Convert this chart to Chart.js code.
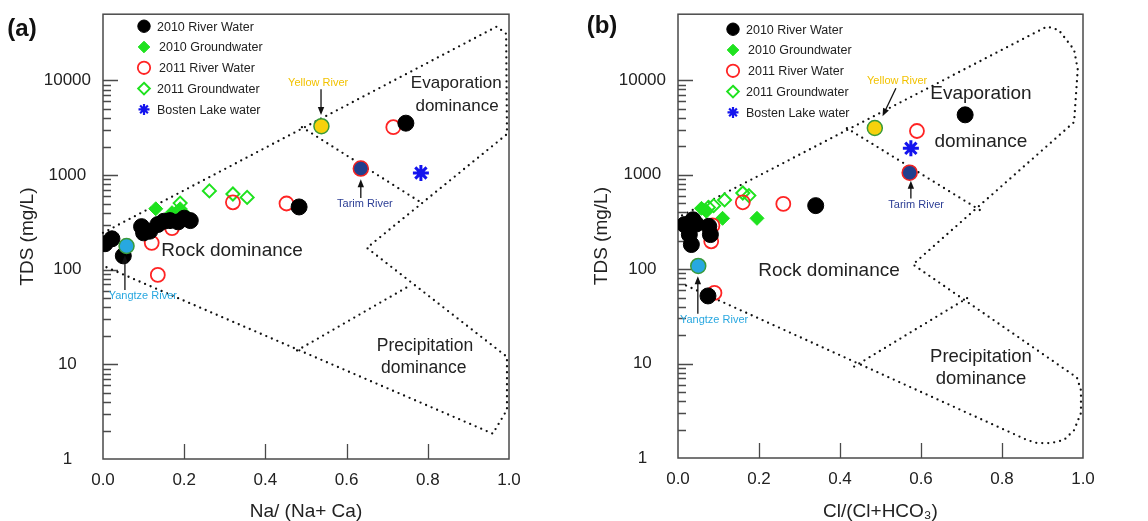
<!DOCTYPE html>
<html>
<head>
<meta charset="utf-8">
<script src="https://cdn.jsdelivr.net/npm/chart.js@4.4.1/dist/chart.umd.min.js"></script>
<style>
body { margin: 0; background: #fff; }
.wrap { display: flex; width: 1148px; height: 521px; }
canvas { display: block; }
</style>
</head>
<body>
<div class="wrap">
    <canvas id="gibbs-a" width="574" height="521"></canvas>
    <canvas id="gibbs-b" width="574" height="521"></canvas>
</div>
<script>
// axis ticks
const xTicks = [0, 0.2, 0.4, 0.6, 0.8, 1.0];
const yMajor = [1, 10, 100, 1000, 10000];
const yMinorSteps = [2, 3, 4, 5, 6, 7, 8, 9];

const seriesNames = ['2010 River Water', '2010 Groundwater', '2011 River Water', '2011 Groundwater', 'Bosten Lake water'];

// (a) Na/(Na+Ca) vs TDS (mg/L)
const riverA2010 = [[0.005, 188], [0.022, 212], [0.05, 140], [0.095, 285], [0.10, 245], [0.115, 255], [0.135, 300],
    [0.15, 325], [0.165, 330], [0.185, 320], [0.20, 350], [0.215, 330], [0.483, 460], [0.746, 3530]];
const groundA2010 = [[0.13, 440], [0.17, 400], [0.19, 440], [0.20, 390], [0.21, 350]];
const riverA2011 = [[0.12, 192], [0.135, 88], [0.17, 275], [0.32, 515], [0.452, 500], [0.715, 3200]];
const groundA2011 = [[0.19, 505], [0.262, 680], [0.32, 630], [0.355, 580]];
const bostenA = [[0.783, 1050]];
const yellowA = [[0.538, 3280]];
const yangtzeA = [[0.058, 178]];
const tarimA = [[0.635, 1170]];
// Gibbs boundaries (a)
const outerA = [[0, 245], [0.97, 37000], [0.993, 31000], [0.995, 2700], [0.65, 170], [0.995, 12], [0.995, 3.3], [0.96, 1.85], [0, 110]];
const evapLineA = [[0.49, 3200], [0.785, 507]];
const precLineA = [[0.478, 14], [0.756, 68]];

// (b) Cl/(Cl+HCO3) vs TDS (mg/L)
const riverB2010 = [[0.016, 296], [0.037, 333], [0.028, 232], [0.033, 182], [0.045, 300], [0.076, 284], [0.08, 232],
    [0.074, 52], [0.34, 470], [0.709, 4300]];
const groundB2010 = [[0.058, 440], [0.07, 410], [0.11, 345], [0.195, 345]];
const riverB2011 = [[0.082, 197], [0.085, 290], [0.09, 56], [0.16, 510], [0.26, 490], [0.59, 2900]];
const groundB2011 = [[0.075, 450], [0.088, 470], [0.115, 540], [0.16, 640], [0.175, 600]];
const bostenB = [[0.575, 1900]];
const yellowB = [[0.486, 3120]];
const yangtzeB = [[0.05, 108]];
const tarimB = [[0.572, 1050]];
// Gibbs boundaries (b)
const outerB = [[0.01, 370], [0.911, 37000], [0.94, 34000], [0.978, 21000], [0.987, 13000], [0.978, 3600], [0.58, 112],
    [0.985, 7.1], [0.995, 5.2], [0.995, 3.0], [0.978, 1.97], [0.953, 1.55], [0.921, 1.44], [0.886, 1.44], [0.862, 1.55], [0.007, 71]];
const evapLineB = [[0.417, 3100], [0.75, 410]];
const precLineB = [[0.435, 9.3], [0.723, 52]];

const FONT = "'Liberation Sans', Arial, sans-serif";
Chart.defaults.font.family = FONT;
Chart.defaults.color = '#222';

const yTickValues = [];
yMajor.forEach(function(p){
    yTickValues.push(p);
    if (p < 10000) yMinorSteps.forEach(function(m){ yTickValues.push(m * p); });
});

function pts(arr){
    return arr.map(function(p){ return {x: p[0], y: p[1]}; });
}

function series(data){
    return [
        {label: 'Yellow River', data: pts(data.yellow), pointStyle: 'circle', pointRadius: 7.5, backgroundColor: '#f6d10c', borderColor: '#3a9a3a', borderWidth: 1.5},
        {label: 'Yangtze River', data: pts(data.yangtze), pointStyle: 'circle', pointRadius: 7.5, backgroundColor: '#27a8e0', borderColor: '#3a9a3a', borderWidth: 1.5},
        {label: 'Tarim River', data: pts(data.tarim), pointStyle: 'circle', pointRadius: 7.5, backgroundColor: '#213f8e', borderColor: '#f02222', borderWidth: 1.5},
        {label: seriesNames[0], inLegend: true, data: pts(data.r10), pointStyle: 'circle', pointRadius: 8, backgroundColor: '#000', borderColor: '#000', borderWidth: 1},
        {label: seriesNames[4], inLegend: true, data: pts(data.bosten), pointStyle: 'star', pointRadius: 8, backgroundColor: '#1414ee', borderColor: '#1414ee', borderWidth: 3},
        {label: seriesNames[2], inLegend: true, data: pts(data.r11), pointStyle: 'circle', pointRadius: 7, backgroundColor: 'rgba(0,0,0,0)', borderColor: '#ff2424', borderWidth: 1.8},
        {label: seriesNames[1], inLegend: true, data: pts(data.g10), pointStyle: 'rectRot', pointRadius: 7, backgroundColor: '#1ee21e', borderColor: '#1ee21e', borderWidth: 1},
        {label: seriesNames[3], inLegend: true, data: pts(data.g11), pointStyle: 'rectRot', pointRadius: 6.5, backgroundColor: 'rgba(0,0,0,0)', borderColor: '#1ee21e', borderWidth: 2},
        boundary(data.outer), boundary(data.evap), boundary(data.prec)
    ];
}

function boundary(arr){
    return {data: pts(arr), showLine: true, pointRadius: 0, borderColor: '#111', borderWidth: 2.3,
        borderDash: [0, 6], borderCapStyle: 'round', fill: false, clip: false};
}

// marker for the in-plot legend
function marker(ctx, ds, x, y, r){
    ctx.save();
    ctx.fillStyle = ds.backgroundColor;
    ctx.strokeStyle = ds.borderColor;
    ctx.lineWidth = ds.borderWidth;
    ctx.beginPath();
    if (ds.pointStyle === 'circle') {
        ctx.arc(x, y, r, 0, Math.PI * 2);
        ctx.fill(); ctx.stroke();
    } else if (ds.pointStyle === 'rectRot') {
        ctx.moveTo(x, y - r); ctx.lineTo(x + r, y); ctx.lineTo(x, y + r); ctx.lineTo(x - r, y); ctx.closePath();
        ctx.fill(); ctx.stroke();
    } else {
        for (let i = 0; i < 4; i++) {
            const a = i * Math.PI / 4;
            ctx.moveTo(x - Math.cos(a) * r, y - Math.sin(a) * r);
            ctx.lineTo(x + Math.cos(a) * r, y + Math.sin(a) * r);
        }
        ctx.lineWidth = 2.2;
        ctx.stroke();
    }
    ctx.restore();
}

const gibbsPlugin = {
    id: 'gibbs',
    beforeDatasetsDraw(chart){
        const {ctx, chartArea: a, scales: {x, y}} = chart;
        ctx.save();
        ctx.strokeStyle = '#4a4a4a';
        ctx.lineWidth = 1.5;
        ctx.strokeRect(a.left, a.top, a.right - a.left, a.bottom - a.top);
        ctx.lineWidth = 1.3;
        ctx.beginPath();
        x.ticks.forEach(function(t){
            if (t.value <= 0 || t.value >= 1) return;
            const px = Math.round(x.getPixelForValue(t.value)) + 0.5;
            ctx.moveTo(px, a.bottom); ctx.lineTo(px, a.bottom - 15);
        });
        y.ticks.forEach(function(t){
            if (t.value <= 1) return;
            const py = Math.round(y.getPixelForValue(t.value)) + 0.5;
            const len = yMajor.includes(t.value) ? 15 : 8;
            ctx.moveTo(a.left, py); ctx.lineTo(a.left + len, py);
        });
        ctx.stroke();
        ctx.restore();
    },
    afterDatasetsDraw(chart){
        const opts = chart.options.plugins.gibbs;
        const {ctx, chartArea: a, scales: {x, y}} = chart;
        ctx.save();
        // panel letter
        ctx.fillStyle = '#111';
        ctx.font = 'bold 24px ' + FONT;
        ctx.textAlign = 'center';
        ctx.textBaseline = 'middle';
        ctx.fillText(opts.panel.text, opts.panel.x, opts.panel.y);

        // legend
        const lg = opts.legend;
        ctx.font = '12.5px ' + FONT;
        ctx.textAlign = 'left';
        let row = 0;
        chart.data.datasets.filter(function(d){ return d.inLegend; })
            .sort(function(p, q){ return seriesNames.indexOf(p.label) - seriesNames.indexOf(q.label); })
            .forEach(function(ds){
                const ly = a.top + lg.top + row * 20.8;
                const r = ds.pointStyle === 'circle' ? 6.2 : (ds.pointStyle === 'star' ? 5.5 : 5.8);
                marker(ctx, ds, a.left + lg.left, ly, r);
                ctx.fillStyle = '#222';
                ctx.fillText(ds.label, a.left + lg.left + 13 + (row === 1 || row === 2 ? 2 : 0), ly + 1);
                row++;
            });

        // arrows
        ctx.strokeStyle = '#111';
        ctx.fillStyle = '#111';
        ctx.lineWidth = 1.3;
        opts.arrows.forEach(function(ar){
            const x1 = x.getPixelForValue(ar[0]), y1 = y.getPixelForValue(ar[1]);
            const x2 = x.getPixelForValue(ar[2]), y2 = y.getPixelForValue(ar[3]);
            const ang = Math.atan2(y2 - y1, x2 - x1);
            ctx.beginPath();
            ctx.moveTo(x1, y1); ctx.lineTo(x2 - Math.cos(ang) * 5, y2 - Math.sin(ang) * 5);
            ctx.stroke();
            ctx.beginPath();
            ctx.moveTo(x2, y2);
            ctx.lineTo(x2 - Math.cos(ang) * 8 + Math.sin(ang) * 3.2, y2 - Math.sin(ang) * 8 - Math.cos(ang) * 3.2);
            ctx.lineTo(x2 - Math.cos(ang) * 8 - Math.sin(ang) * 3.2, y2 - Math.sin(ang) * 8 + Math.cos(ang) * 3.2);
            ctx.closePath();
            ctx.fill();
        });

        // region and river labels
        ctx.textAlign = 'center';
        opts.texts.forEach(function(t){
            ctx.font = t.size + 'px ' + FONT;
            ctx.fillStyle = t.color || '#222';
            ctx.fillText(t.text, x.getPixelForValue(t.x), y.getPixelForValue(t.y));
        });
        ctx.restore();
    }
};

function makeChart(id, data, cfg){
    const ctx = document.getElementById(id).getContext('2d');
    return new Chart(ctx, {
        type: 'scatter',
        data: {datasets: series(data)},
        options: {
            responsive: false,
            animation: false,
            events: [],
            layout: {padding: {left: 0, top: cfg.top, right: 65, bottom: 0}},
            scales: {
                x: {
                    type: 'linear', min: 0, max: 1,
                    afterBuildTicks: function(s){ s.ticks = xTicks.map(function(v){ return {value: v}; }); },
                    afterFit: function(s){ s.height = cfg.xHeight; },
                    grid: {display: false},
                    border: {display: false},
                    ticks: {padding: 3, font: {size: 17}, color: '#222', callback: function(v){ return v.toFixed(1); }},
                    title: {display: true, text: cfg.xTitle, font: {size: 19, lineHeight: 1}, color: '#222', padding: {top: 0, bottom: 0}}
                },
                y: {
                    type: 'logarithmic', min: 1, max: 50000,
                    afterBuildTicks: function(s){ s.ticks = yTickValues.map(function(v){ return {value: v}; }); },
                    afterFit: function(s){ s.width = cfg.yWidth; },
                    grid: {display: false},
                    border: {display: false},
                    ticks: {padding: 4, crossAlign: 'center', autoSkip: false, font: {size: 17}, color: '#222',
                        callback: function(v){ return yMajor.includes(v) ? String(v) : ''; }},
                    title: {display: true, text: 'TDS (mg/L)', font: {size: 19}, color: '#222', padding: {top: 16, bottom: 0}}
                }
            },
            plugins: {
                legend: {display: false},
                tooltip: {enabled: false},
                gibbs: cfg.gibbs
            }
        },
        plugins: [gibbsPlugin]
    });
}

makeChart('gibbs-a', {
    r10: riverA2010, g10: groundA2010, r11: riverA2011, g11: groundA2011, bosten: bostenA,
    yellow: yellowA, yangtze: yangtzeA, tarim: tarimA, outer: outerA, evap: evapLineA, prec: precLineA
}, {
    top: 13, xHeight: 62, yWidth: 103, xTitle: 'Na/ (Na+ Ca)',
    gibbs: {
        panel: {text: '(a)', x: 22, y: 29},
        legend: {left: 41, top: 12},
        arrows: [[0.537, 8040, 0.537, 4300], [0.635, 573, 0.635, 900], [0.054, 61, 0.054, 142]],
        texts: [
            {text: 'Yellow River', x: 0.53, y: 9500, size: 11, color: '#f2c200'},
            {text: 'Tarim River', x: 0.645, y: 495, size: 11, color: '#2c3e95'},
            {text: 'Yangtze River', x: 0.098, y: 53, size: 11, color: '#2aa8e0'},
            {text: 'Evaporation', x: 0.87, y: 9300, size: 17},
            {text: 'dominance', x: 0.872, y: 5320, size: 17},
            {text: 'Rock dominance', x: 0.318, y: 158, size: 19},
            {text: 'Precipitation', x: 0.793, y: 15.5, size: 17.5},
            {text: 'dominance', x: 0.79, y: 9.1, size: 17.5}
        ]
    }
});

makeChart('gibbs-b', {
    r10: riverB2010, g10: groundB2010, r11: riverB2011, g11: groundB2011, bosten: bostenB,
    yellow: yellowB, yangtze: yangtzeB, tarim: tarimB, outer: outerB, evap: evapLineB, prec: precLineB
}, {
    top: 11, xHeight: 63, yWidth: 104, xTitle: 'Cl/(Cl+HCO\u2083)',
    gibbs: {
        panel: {text: '(b)', x: 28, y: 26},
        legend: {left: 55, top: 15},
        arrows: [[0.538, 8240, 0.505, 4150], [0.575, 559, 0.575, 860], [0.049, 33.6, 0.049, 84]],
        texts: [
            {text: 'Yellow River', x: 0.541, y: 9760, size: 11, color: '#f2c200'},
            {text: 'Tarim River', x: 0.588, y: 483, size: 11, color: '#2c3e95'},
            {text: 'Yangtze River', x: 0.089, y: 29, size: 11, color: '#2aa8e0'},
            {text: 'Evaporation', x: 0.748, y: 7120, size: 19},
            {text: 'dominance', x: 0.748, y: 2225, size: 19},
            {text: 'Rock dominance', x: 0.373, y: 95, size: 19},
            {text: 'Precipitation', x: 0.748, y: 11.9, size: 18.5},
            {text: 'dominance', x: 0.748, y: 6.8, size: 18.5}
        ]
    }
});
</script>
</body>
</html>
